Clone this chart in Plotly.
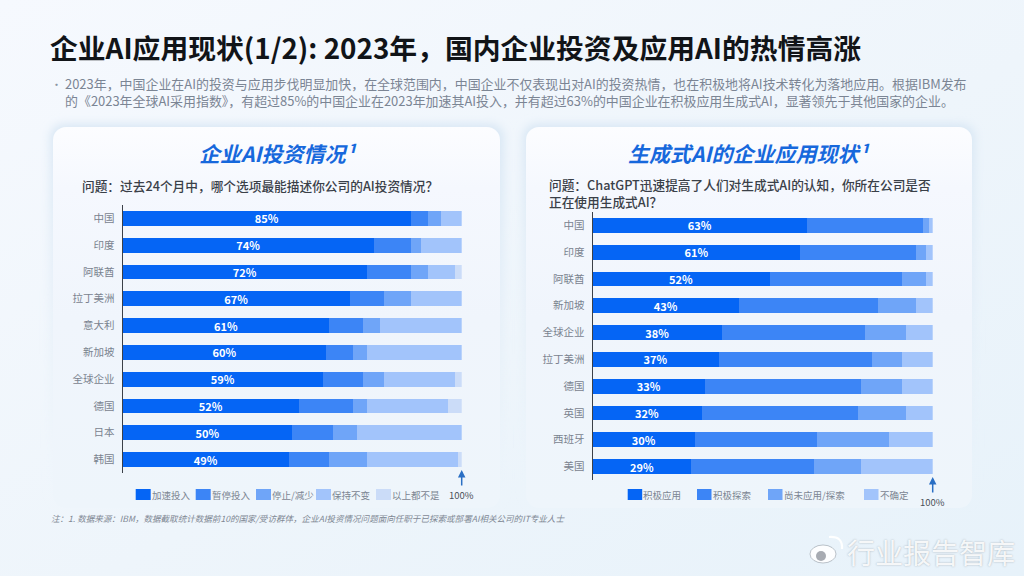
import base64
import plotly.graph_objects as go

W, H = 1024, 576
FONT = "Noto Sans CJK SC"

# ---- data ----
invest_categories = ["中国", "印度", "阿联酋", "拉丁美洲", "意大利", "新加坡", "全球企业", "德国", "日本", "韩国"]
invest_accelerate = [85, 74, 72, 67, 61, 60, 59, 52, 50, 49]
invest_pause = [5, 11, 13, 10, 10, 8, 12, 16, 12, 12]
invest_reduce = [4, 3, 5, 8, 5, 4, 6, 4, 7, 11]
invest_same = [6, 12, 8, 15, 24, 28, 21, 24, 31, 27]
invest_none = [0, 0, 2, 0, 0, 0, 2, 4, 0, 1]
invest_names = ["加速投入", "暂停投入", "停止/减少", "保持不变", "以上都不是"]

genai_categories = ["中国", "印度", "阿联酋", "新加坡", "全球企业", "拉丁美洲", "德国", "英国", "西班牙", "美国"]
genai_active = [63, 61, 52, 43, 38, 37, 33, 32, 30, 29]
genai_explore = [34, 34, 39, 41, 42, 45, 46, 46, 36, 36]
genai_not_yet = [2, 3, 7, 11, 12, 9, 12, 14, 21, 14]
genai_unsure = [1, 2, 2, 5, 8, 9, 9, 8, 13, 21]
genai_names = ["积极应用", "积极探索", "尚未应用/探索", "不确定"]

colors = ["#0565f5", "#3c85f6", "#6fa5f8", "#a2c4fb", "#cbdcf8"]


def fx(p):
    return p / W


def fy(p):
    return 1 - p / H


svg = f'''<svg xmlns="http://www.w3.org/2000/svg" width="{W}" height="{H}" viewBox="0 0 {W} {H}">
<defs>
<linearGradient id="bg" x1="0" y1="0" x2="1" y2="1">
<stop offset="0" stop-color="#f6f9fe"/><stop offset="0.55" stop-color="#eef5fb"/><stop offset="1" stop-color="#e7f2fa"/>
</linearGradient>
<linearGradient id="card" x1="0" y1="0" x2="0" y2="1">
<stop offset="0" stop-color="#fcfdff"/><stop offset="0.16" stop-color="#f5f8fe"/><stop offset="0.5" stop-color="#f0f5fc"/><stop offset="1" stop-color="#eef5fb"/>
</linearGradient>
<linearGradient id="sh" x1="0" y1="0" x2="0" y2="1">
<stop offset="0" stop-color="#d5e5f3" stop-opacity="0.9"/><stop offset="0.6" stop-color="#dce9f5" stop-opacity="0.35"/><stop offset="1" stop-color="#e6f0f8" stop-opacity="0"/>
</linearGradient>
<filter id="s" x="-5%" y="-5%" width="110%" height="110%"><feGaussianBlur stdDeviation="5"/></filter>
</defs>
<rect width="{W}" height="{H}" fill="url(#bg)"/>
<rect x="50" y="124" width="454" height="387" rx="14" fill="url(#sh)" filter="url(#s)"/>
<rect x="523" y="124" width="452" height="387" rx="14" fill="url(#sh)" filter="url(#s)"/>
<rect x="53" y="127" width="447" height="381" rx="13" fill="url(#card)"/>
<rect x="526" y="127" width="446" height="381" rx="13" fill="url(#card)"/>
</svg>'''
bg_uri = "data:image/svg+xml;base64," + base64.b64encode(svg.encode()).decode()

fig = go.Figure()


def add_series(cats, series, names, xa, ya):
    for i, (vals, name) in enumerate(zip(series, names)):
        kw = {}
        if i == 0:
            kw = dict(
                text=[f"{v}%" for v in vals],
                textposition="inside",
                insidetextanchor="middle",
                constraintext="none",
                textangle=0,
                textfont=dict(family=FONT, size=11, color="white", weight="bold"),
            )
        fig.add_trace(go.Bar(
            y=cats, x=vals, name=name, orientation="h",
            marker=dict(color=colors[i], line=dict(width=0)),
            xaxis=xa, yaxis=ya, showlegend=False, hoverinfo="skip", **kw,
        ))


add_series(invest_categories,
           [invest_accelerate, invest_pause, invest_reduce, invest_same, invest_none],
           invest_names, "x", "y")
add_series(genai_categories,
           [genai_active, genai_explore, genai_not_yet, genai_unsure],
           genai_names, "x2", "y2")

ann = []
shapes = []


def text(x, y, s, size, color, anchor="left", weight="normal", style="normal"):
    ann.append(dict(
        text=s, x=fx(x), y=fy(y), xref="paper", yref="paper", showarrow=False,
        xanchor=anchor, yanchor="middle", align=anchor,
        font=dict(family=FONT, size=size, color=color, weight=weight, style=style),
    ))


text(48, 47, "企业AI应用现状(1/2): 2023年，国内企业投资及应用AI的热情高涨", 27.8, "#111418", weight="bold")
text(49, 83.5, "•", 11, "#8a94a3")
text(63, 83.5, "2023年，中国企业在AI的投资与应用步伐明显加快，在全球范围内，中国企业不仅表现出对AI的投资热情，也在积极地将AI技术转化为落地应用。根据IBM发布", 12.95, "#7b8594")
text(63, 100.5, "的《2023年全球AI采用指数》，有超过85%的中国企业在2023年加速其AI投入，并有超过63%的中国企业在积极应用生成式AI，显著领先于其他国家的企业。", 12.95, "#7b8594")
text(277, 153, "企业AI投资情况¹", 21, "#1668dc", "center", "bold", "italic")
text(748, 153, "生成式AI的企业应用现状¹", 21, "#1668dc", "center", "bold", "italic")
text(80, 185, "问题：过去24个月中，哪个选项最能描述你公司的AI投资情况？", 12.7, "#3a4048", weight=500)
text(547, 184.5, "问题：ChatGPT迅速提高了人们对生成式AI的认知，你所在公司是否", 12.7, "#3a4048", weight=500)
text(547, 201.5, "正在使用生成式AI？", 12.7, "#3a4048", weight=500)
text(49, 518, "注：1. 数据来源：IBM，数据截取统计数据前10的国家/受访群体，企业AI投资情况问题面向任职于已探索或部署AI相关公司的IT专业人士", 8.55, "#7f8894", style="italic")

# legends
left_sw = [135.7, 195.7, 256, 316, 376]
right_sw = [627.7, 697, 768, 864]
for sw, names, sw_w in ((left_sw, invest_names, 15), (right_sw, genai_names, 14.5)):
    for i, (x0, name) in enumerate(zip(sw, names)):
        shapes.append(dict(type="rect", xref="paper", yref="paper",
                           x0=fx(x0), x1=fx(x0 + sw_w), y0=fy(500), y1=fy(489),
                           fillcolor=colors[i], line=dict(width=0)))
        text(x0 + sw_w - 1, 494.5, name, 9.5, "#7c8592")

# 100% markers
for xref, y_tip, y_lab in (("x", 470, 495), ("x2", 477, 502)):
    ann.append(dict(x=100, xref=xref, y=fy(y_tip), yref="paper", ax=0, ay=17, text="",
                    showarrow=True, arrowhead=2, arrowsize=1, arrowwidth=1.5, arrowcolor="#2a6fc4"))
    ann.append(dict(x=100, xref=xref, y=fy(y_lab), yref="paper", text="100%", showarrow=False,
                    xanchor="center", yanchor="middle",
                    font=dict(family=FONT, size=9.5, color="#4a5058")))

# watermark
ann.append(dict(text="行业报告智库", x=fx(845), y=fy(552), xref="paper", yref="paper", showarrow=False,
                xanchor="left", yanchor="middle",
                font=dict(family=FONT, size=28, color="rgba(255,255,255,0.9)",
                          shadow="0px 0px 2px rgba(100,110,120,0.55)")))
shapes.append(dict(type="circle", xref="paper", yref="paper", x0=fx(810), x1=fx(836), y0=fy(563), y1=fy(545),
                   fillcolor="rgba(255,255,255,0.9)", line=dict(color="rgba(130,140,150,0.5)", width=1)))
shapes.append(dict(type="circle", xref="paper", yref="paper", x0=fx(816), x1=fx(826), y0=fy(561), y1=fy(551),
                   fillcolor="rgba(130,135,145,0.7)", line=dict(width=0)))
shapes.append(dict(type="path", xref="paper", yref="paper", line=dict(color="rgba(255,255,255,0.95)", width=2.2),
                   path=f"M {fx(829)} {fy(537)} Q {fx(843)} {fy(536)} {fx(842)} {fy(549)}"))

tick = dict(family=FONT, size=10.5, color="#7a838f")
xcommon = dict(range=[0, 100], visible=False, fixedrange=True)
ycommon = dict(autorange="reversed", showline=True, linecolor="#3b4048", linewidth=1.2, showgrid=False,
               zeroline=False, ticks="outside", ticklen=5, tickcolor="rgba(0,0,0,0)", tickfont=tick,
               fixedrange=True)

fig.update_layout(
    width=W, height=H, autosize=False,
    margin=dict(l=0, r=0, t=0, b=0),
    paper_bgcolor="#eff6fc", plot_bgcolor="rgba(0,0,0,0)",
    barmode="stack", bargap=0.45,
    xaxis=dict(domain=[fx(122.7), fx(461.7)], anchor="y", **xcommon),
    yaxis=dict(domain=[fy(473), fy(205)], anchor="x", **ycommon),
    xaxis2=dict(domain=[fx(592.7), fx(932.7)], anchor="y2", **xcommon),
    yaxis2=dict(domain=[fy(480), fy(212)], anchor="x2", **ycommon),
    annotations=ann, shapes=shapes,
    images=[dict(source=bg_uri, xref="paper", yref="paper", x=0, y=1, sizex=1, sizey=1,
                 sizing="stretch", xanchor="left", yanchor="top", layer="below")],
    showlegend=False,
)

fig.write_html("out.html", config=dict(displayModeBar=False),
               post_script="document.body.style.margin='0';document.body.style.overflow='hidden';")
